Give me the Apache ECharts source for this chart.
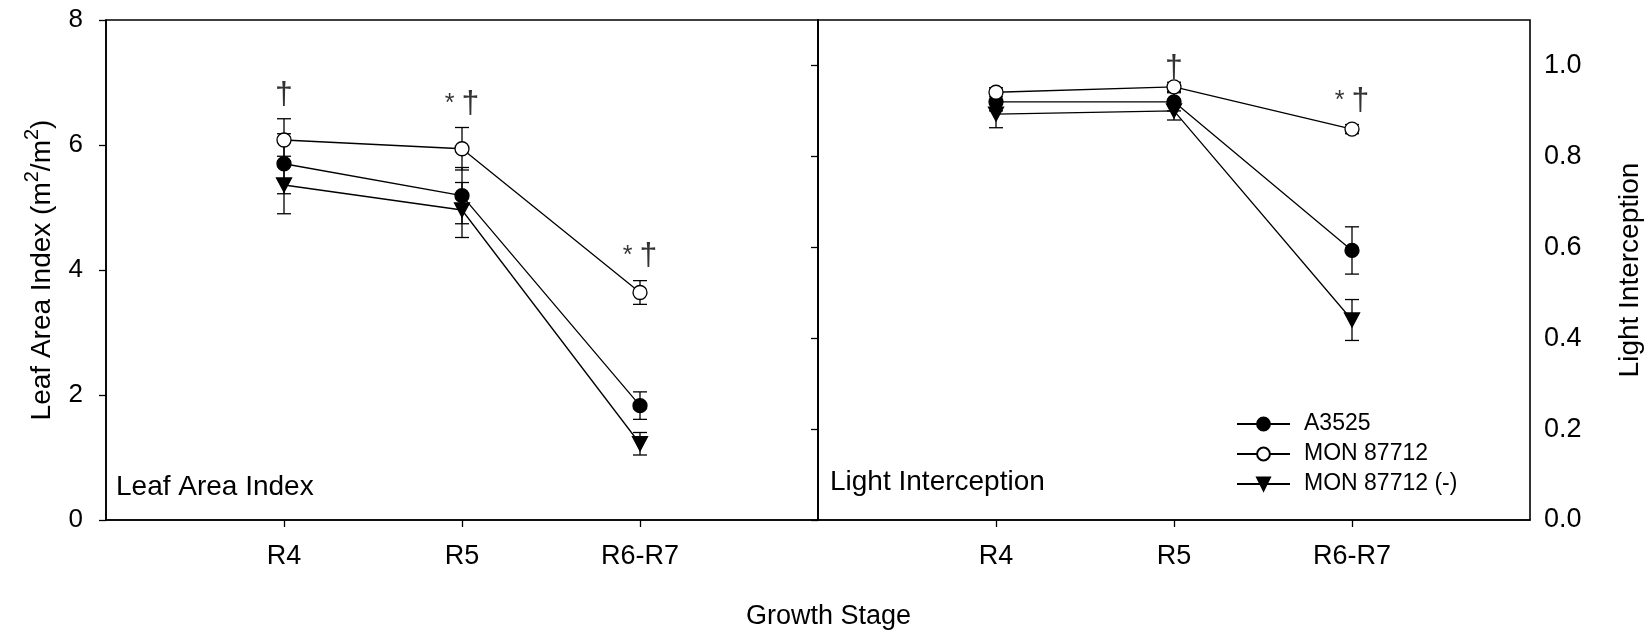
<!DOCTYPE html>
<html>
<head>
<meta charset="utf-8">
<script src="https://cdn.jsdelivr.net/npm/echarts@6/dist/echarts.min.js"></script>
<style>
  html, body { margin: 0; padding: 0; background: #fff; }
  #chart { width: 1648px; height: 632px; }
</style>
</head>
<body>
<div id="chart"></div>
<script>
// growth stages (x categories)
const stages = ['R4', 'R5', 'R6-R7']
const seriesNames = ['A3525', 'MON 87712', 'MON 87712 (-)']

// leaf area index, mean and SE
const laiA3525 = [5.70, 5.19, 1.83]
const laiA3525Se = [0.48, 0.45, 0.22]
const laiMon = [6.08, 5.94, 3.64]
const laiMonSe = [0.34, 0.34, 0.19]
const laiMonNeg = [5.36, 4.96, 1.22]
const laiMonNegSe = [0.46, 0.44, 0.18]

// light interception, mean and SE
const liA3525 = [0.920, 0.920, 0.593]
const liA3525Se = [0.02, 0.02, 0.052]
const liMon = [0.941, 0.953, 0.860]
const liMonSe = [0.01, 0.01, 0.01]
const liMonNeg = [0.893, 0.900, 0.440]
const liMonNegSe = [0.03, 0.02, 0.045]

// axis ticks
const laiTicks = [0, 2, 4, 6, 8]
const liTicks = [0, 0.2, 0.4, 0.6, 0.8, 1.0]

// significance marks [stage index, y, text]
const laiNotes = [[1, 6.80, '†'], [2, 6.66, '* †'], [3, 4.22, '* †']]
const liNotes = [[2, 0.995, '†'], [3, 0.921, '* †']]

const FONT = 'Liberation Sans, Arial, sans-serif'
const stageX = stages.map((s, i) => i + 1)

const markers = [
  { symbol: 'circle', rotate: 0, fill: '#000' },
  { symbol: 'circle', rotate: 0, fill: '#fff' },
  { symbol: 'triangle', rotate: 180, fill: '#000' }
]

const panels = [
  { means: [laiA3525, laiMon, laiMonNeg], ses: [laiA3525Se, laiMonSe, laiMonNegSe], notes: laiNotes, yIdx: 0 },
  { means: [liA3525, liMon, liMonNeg], ses: [liA3525Se, liMonSe, liMonNegSe], notes: liNotes, yIdx: 1 }
]

function errorBar(params, api) {
  const x = api.value(0)
  const top = api.coord([x, api.value(2)])
  const bot = api.coord([x, api.value(1)])
  const w = 7
  const st = { stroke: '#000', lineWidth: 1.3 }
  return {
    type: 'group',
    children: [
      { type: 'line', shape: { x1: top[0], y1: top[1], x2: bot[0], y2: bot[1] }, style: st },
      { type: 'line', shape: { x1: top[0] - w, y1: top[1], x2: top[0] + w, y2: top[1] }, style: st },
      { type: 'line', shape: { x1: bot[0] - w, y1: bot[1], x2: bot[0] + w, y2: bot[1] }, style: st }
    ]
  }
}

// "* †" -> asterisk smaller, dagger larger
function noteText(d) {
  return d.data[2].split(' ').map(t => t === '*' ? '{a|*}' : '{d|†}').join('{a| }')
}

const series = []
panels.forEach((p, pi) => {
  p.means.forEach((vals, si) => {
    const m = markers[si]
    series.push({
      type: 'custom',
      name: 'err' + pi + si,
      xAxisIndex: pi,
      yAxisIndex: p.yIdx,
      renderItem: errorBar,
      encode: { x: 0, y: [1, 2] },
      z: 1,
      silent: true,
      data: vals.map((v, i) => [stageX[i], v - p.ses[si][i], v + p.ses[si][i]])
    })
    series.push({
      type: 'line',
      name: seriesNames[si],
      xAxisIndex: pi,
      yAxisIndex: p.yIdx,
      z: 3,
      symbol: m.symbol,
      symbolRotate: m.rotate,
      symbolSize: m.symbol === 'triangle' ? [15, 14] : 14,
      showAllSymbol: true,
      lineStyle: { color: '#000', width: 1.3 },
      itemStyle: { color: m.fill, borderColor: '#000', borderWidth: 1.3 },
      emphasis: { disabled: true },
      data: vals.map((v, i) => [stageX[i], v])
    })
  })
  series.push({
    type: 'scatter',
    name: 'notes' + pi,
    xAxisIndex: pi,
    yAxisIndex: p.yIdx,
    symbolSize: 1,
    itemStyle: { color: 'rgba(0,0,0,0)' },
    silent: true,
    label: {
      show: true,
      position: 'inside',
      formatter: noteText,
      rich: {
        a: { fontFamily: FONT, fontSize: 25, color: '#000', lineHeight: 34 },
        d: { fontFamily: FONT, fontSize: 32, color: '#000', lineHeight: 34 }
      }
    },
    data: p.notes
  })
})

const xAxisBase = gi => ({
  type: 'value',
  gridIndex: gi,
  min: 0,
  max: 4,
  interval: 1,
  splitLine: { show: false },
  axisLine: { show: true, lineStyle: { color: '#000', width: 1.6 } },
  axisTick: { show: true, customValues: stageX, length: 7, lineStyle: { color: '#000', width: 1.3 } },
  axisLabel: {
    customValues: stageX,
    formatter: v => stages[v - 1],
    fontFamily: FONT,
    fontSize: 27,
    color: '#000',
    margin: 23
  }
})

const chart = echarts.init(document.getElementById('chart'))
chart.setOption({
  animation: false,
  backgroundColor: '#fff',
  title: {
    text: 'Growth Stage',
    left: 746,
    top: 603,
    padding: 0,
    textStyle: { fontFamily: FONT, fontSize: 27, fontWeight: 'normal', color: '#000' }
  },
  legend: {
    data: seriesNames,
    orient: 'vertical',
    left: 1236,
    top: 412,
    padding: 0,
    itemWidth: 53,
    itemHeight: 16,
    itemGap: 6,
    selectedMode: false,
    textStyle: { fontFamily: FONT, fontSize: 23, color: '#000', lineHeight: 24, padding: [0, 0, 0, 9] }
  },
  grid: [
    { left: 106, top: 20, width: 712, height: 500, show: true, borderColor: '#000', borderWidth: 1.6, backgroundColor: 'transparent' },
    { left: 818, top: 20, width: 712, height: 500, show: true, borderColor: '#000', borderWidth: 1.6, backgroundColor: 'transparent' }
  ],
  xAxis: [xAxisBase(0), xAxisBase(1)],
  yAxis: [
    {
      type: 'value',
      gridIndex: 0,
      min: 0,
      max: 8,
      interval: 2,
      splitLine: { show: false },
      axisLine: { show: true, lineStyle: { color: '#000', width: 1.6 } },
      axisTick: { show: true, length: 7, lineStyle: { color: '#000', width: 1.3 } },
      axisLabel: { fontFamily: FONT, fontSize: 26, color: '#000', margin: 23 },
      name: '{n|Leaf Area Index (m}{s|2}{n|/m}{s|2}{n|)}',
      nameLocation: 'middle',
      nameRotate: 90,
      nameGap: 50,
      nameTextStyle: {
        rich: {
          n: { fontFamily: FONT, fontSize: 28, color: '#000', lineHeight: 34, verticalAlign: 'bottom' },
          s: { fontFamily: FONT, fontSize: 20, color: '#000', lineHeight: 34, verticalAlign: 'top' }
        }
      }
    },
    {
      type: 'value',
      gridIndex: 1,
      position: 'right',
      min: 0,
      max: 1.1,
      interval: 0.2,
      splitLine: { show: false },
      axisLine: { show: true, lineStyle: { color: '#000', width: 1.6 } },
      axisTick: { show: false },
      axisLabel: {
        customValues: liTicks,
        formatter: v => v.toFixed(1),
        fontFamily: FONT,
        fontSize: 27,
        color: '#000',
        margin: 14
      },
      name: 'Light Interception',
      nameLocation: 'middle',
      nameRotate: 90,
      nameGap: 86,
      nameTextStyle: { fontFamily: FONT, fontSize: 28, color: '#000' }
    },
    {
      type: 'value',
      gridIndex: 1,
      position: 'left',
      min: 0,
      max: 1.1,
      interval: 0.2,
      splitLine: { show: false },
      axisLine: { show: true, lineStyle: { color: '#000', width: 1.6 } },
      axisTick: { show: true, customValues: liTicks, length: 7, lineStyle: { color: '#000', width: 1.3 } },
      axisLabel: { show: false }
    }
  ],
  graphic: [
    { type: 'text', left: 116, top: 473, style: { text: 'Leaf Area Index', font: '28px ' + FONT, fill: '#000' } },
    { type: 'text', left: 830, top: 468, style: { text: 'Light Interception', font: '28px ' + FONT, fill: '#000' } }
  ],
  series: series
})
</script>
</body>
</html>
